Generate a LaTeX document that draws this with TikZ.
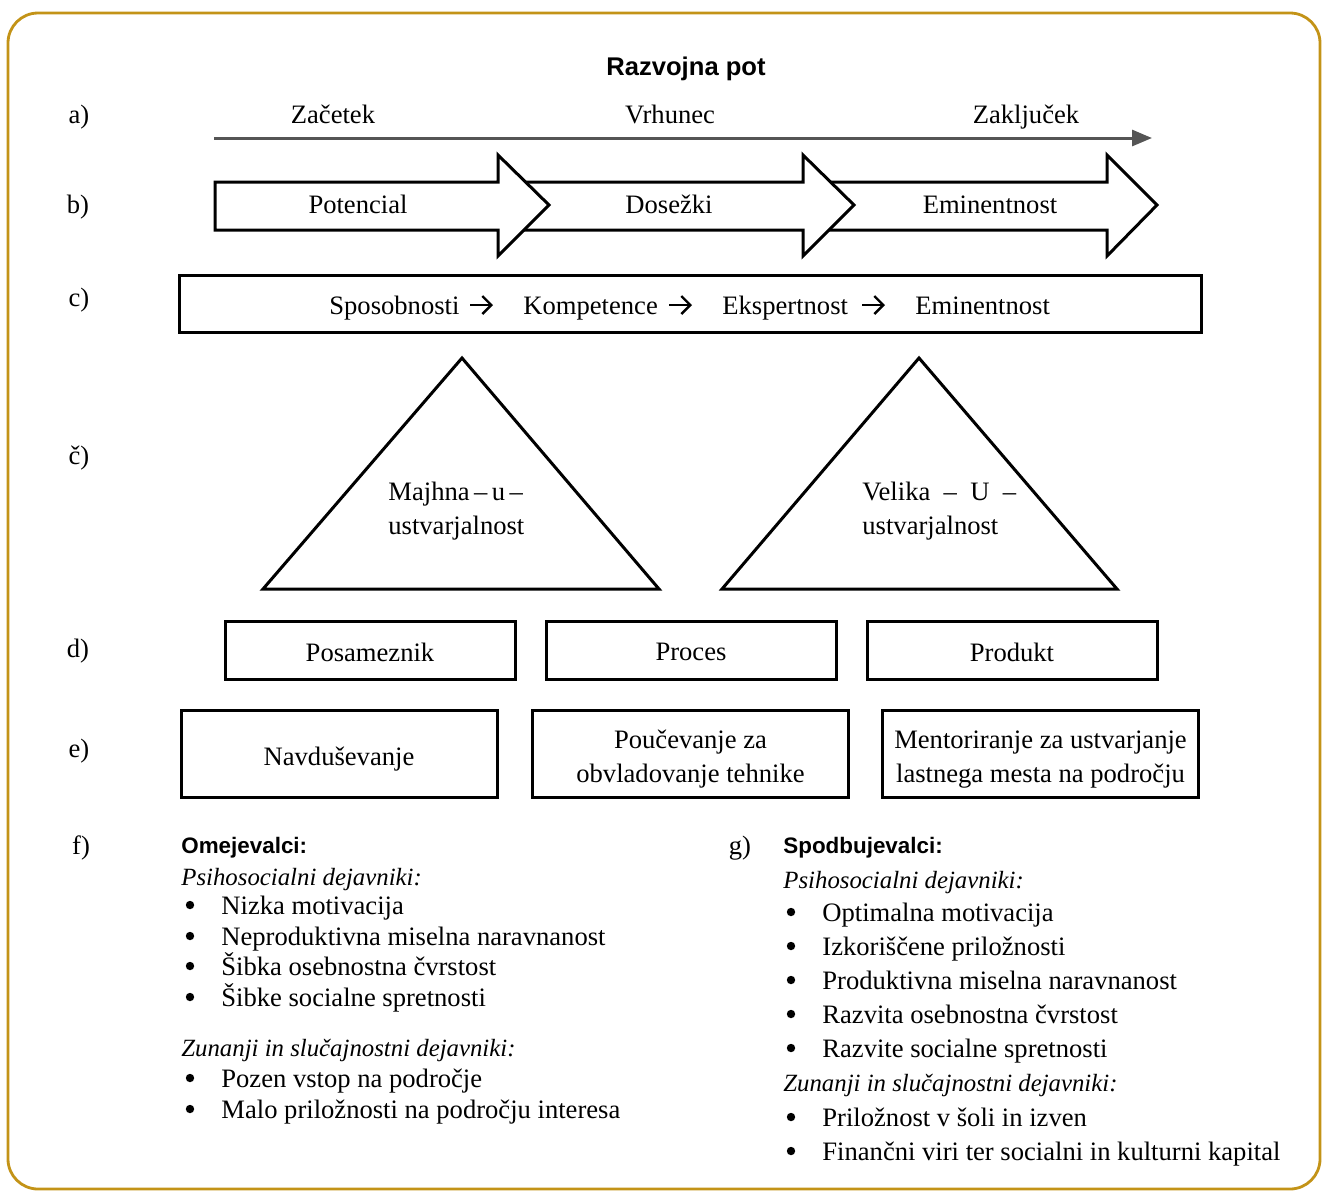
\documentclass[tikz,border=0pt]{standalone}
\usepackage{fontspec}
\setmainfont{Liberation Serif}
\newfontfamily\hsans{Liberation Sans}
\usetikzlibrary{arrows.meta}
\definecolor{frame}{HTML}{C39317}
\definecolor{axisgray}{HTML}{555555}
\begin{document}
\begin{tikzpicture}[x=0.5pt,y=-0.5pt,
  body/.style={font=\fontsize{13.3}{17}\selectfont, inner sep=0pt},
  ital/.style={font=\fontsize{12.4}{15}\selectfont\itshape, inner sep=0pt, anchor=base west},
  head/.style={font=\fontsize{11.2}{13}\selectfont\hsans\bfseries, inner sep=0pt, anchor=base west},
  rowlbl/.style={body, anchor=base},
  item/.style={body, anchor=base west},
  bul/.style={circle, fill=black, inner sep=0pt, minimum size=4.2pt},
  boxd/.style={draw, line width=1.5pt, minimum width=145pt, minimum height=29pt, inner sep=0pt, anchor=center},
  boxe/.style={draw, line width=1.5pt, minimum width=158pt, minimum height=43.5pt, inner sep=0pt, anchor=center},
  boxtext/.style={body, align=center, yshift=-3pt},
  carrow/.style={line width=1.2pt, -{Straight Barb[length=4.5pt,width=9pt,line width=1.2pt]}},
  blockarrow/.style={draw, fill=white, line width=1.5pt, line join=miter},
  tri/.style={draw, line width=1.5pt, line join=miter}]
\useasboundingbox (0,0) rectangle (1323,1191);
\draw[frame, line width=1.4pt, rounded corners=15pt] (8,13) rectangle (1320,1189);

% title
\node[font=\fontsize{12.8}{15}\selectfont\hsans\bfseries, inner sep=0pt, anchor=base] (title) at (686,75) {Razvojna pot};

% row labels
\node[rowlbl] (la) at (79,123) {a)};
\node[rowlbl] (lb) at (78,213) {b)};
\node[rowlbl] (lc) at (79,306) {c)};
\node[rowlbl] (lcc) at (79,464) {č)};
\node[rowlbl] (ld) at (78,657) {d)};
\node[rowlbl] (le) at (79,757) {e)};
\node[rowlbl] (lf) at (81,854) {f)};
\node[rowlbl] (lg) at (740,854) {g)};

% a) timeline
\node[body, anchor=base] (zac) at (333,123) {Začetek};
\node[body, anchor=base] (vrh) at (670,123) {Vrhunec};
\node[body, anchor=base] (zak) at (1026,123) {Zaključek};
\coordinate (ts) at (214,138);
\coordinate (te) at (1152,138);
\draw[axisgray, line width=1.5pt, -{Triangle[length=10pt,width=8pt]}] (ts) -- (te);

% b) block arrows
\draw[blockarrow] (815,182) -- (1107,182) -- (1107,155) -- (1157,205) -- (1107,256) -- (1107,230) -- (815,230) -- cycle;
\draw[blockarrow] (510,182) -- (803,182) -- (803,155) -- (854,205) -- (803,256) -- (803,230) -- (510,230) -- cycle;
\draw[blockarrow] (215,182) -- (498,182) -- (498,155) -- (549,205) -- (498,256) -- (498,230) -- (215,230) -- cycle;
\node[body, anchor=base] (pot) at (358,213) {Potencial};
\node[body, anchor=base] (dos) at (669,213) {Dosežki};
\node[body, anchor=base] (emi) at (990,213) {Eminentnost};

% c) box
\node[draw, line width=1.5pt, minimum width=511pt, minimum height=28.5pt, inner sep=0pt] (cbox) at (690,303.5) {};
\node[body, anchor=base west] (w1) at (329,314) {Sposobnosti};
\node[body, anchor=base west] (w2) at (523,314) {Kompetence};
\node[body, anchor=base west] (w3) at (722,314) {Ekspertnost};
\node[body, anchor=base west] (w4) at (915,314) {Eminentnost};
\coordinate (a1s) at (470,305); \coordinate (a1e) at (493,305);
\coordinate (a2s) at (669,305); \coordinate (a2e) at (692,305);
\coordinate (a3s) at (862,305); \coordinate (a3e) at (885,305);
\draw[carrow] (a1s) -- (a1e);
\draw[carrow] (a2s) -- (a2e);
\draw[carrow] (a3s) -- (a3e);

% triangles
\coordinate (t1a) at (462,358); \coordinate (t1l) at (263,589); \coordinate (t1r) at (659,589);
\coordinate (t2a) at (919,358); \coordinate (t2l) at (722,589); \coordinate (t2r) at (1117,589);
\draw[tri] (t1a) -- (t1r) -- (t1l) -- cycle;
\draw[tri] (t2a) -- (t2r) -- (t2l) -- cycle;
\node[body, anchor=base west] (m1) at (388,500) {Majhna\,–\,u\,–};
\node[body, anchor=base west] (m2) at (388,534) {ustvarjalnost};
\node[body, anchor=base west] (v1) at (862,500) {Velika\ \ –\ \ U\ \ –};
\node[body, anchor=base west] (v2) at (862,534) {ustvarjalnost};

% d) boxes
\node[boxd] (pos) at (370,650) {};
\node[boxd] (pro) at (691,650) {};
\node[boxd] (prd) at (1012,650) {};
\node[boxtext, yshift=2pt] (post) at (pos) {Posameznik};
\node[boxtext, yshift=2pt] (prot) at (pro) {Proces};
\node[boxtext, yshift=2pt] (prdt) at (prd) {Produkt};

% e) boxes
\node[boxe] (nav) at (339,753.5) {};
\node[boxe] (pou) at (690.5,753.5) {};
\node[boxe] (men) at (1040.5,753.5) {};
\node[boxtext] (navt) at (nav) {Navduševanje};
\node[boxtext] (pout) at (pou) {Poučevanje za\\obvladovanje tehnike};
\node[boxtext] (ment) at (men) {Mentoriranje za ustvarjanje\\lastnega mesta na področju};

% f) column
\node[head] (omej) at (181,853) {Omejevalci:};
\node[ital] (fps) at (181,885) {Psihosocialni dejavniki:};
\node[bul] (fb1) at (190,905) {}; \node[item] (fi1) at (221,914) {Nizka motivacija};
\node[bul] (fb2) at (190,936) {}; \node[item] (fi2) at (221,945) {Neproduktivna miselna naravnanost};
\node[bul] (fb3) at (190,966) {}; \node[item] (fi3) at (221,975) {Šibka osebnostna čvrstost};
\node[bul] (fb4) at (190,997) {}; \node[item] (fi4) at (221,1006) {Šibke socialne spretnosti};
\node[ital] (fzu) at (181,1056) {Zunanji in slučajnostni dejavniki:};
\node[bul] (fb5) at (190,1078) {}; \node[item] (fi5) at (221,1087) {Pozen vstop na področje};
\node[bul] (fb6) at (190,1109) {}; \node[item] (fi6) at (221,1118) {Malo priložnosti na področju interesa};

% g) column
\node[head] (spod) at (783,853) {Spodbujevalci:};
\node[ital] (gps) at (783,888) {Psihosocialni dejavniki:};
\node[bul] (gb1) at (791,912) {}; \node[item] (gi1) at (822,921) {Optimalna motivacija};
\node[bul] (gb2) at (791,946) {}; \node[item] (gi2) at (822,955) {Izkoriščene priložnosti};
\node[bul] (gb3) at (791,980) {}; \node[item] (gi3) at (822,989) {Produktivna miselna naravnanost};
\node[bul] (gb4) at (791,1014) {}; \node[item] (gi4) at (822,1023) {Razvita osebnostna čvrstost};
\node[bul] (gb5) at (791,1048) {}; \node[item] (gi5) at (822,1057) {Razvite socialne spretnosti};
\node[ital] (gzu) at (783,1091) {Zunanji in slučajnostni dejavniki:};
\node[bul] (gb6) at (791,1117) {}; \node[item] (gi6) at (822,1126) {Priložnost v šoli in izven};
\node[bul] (gb7) at (791,1151) {}; \node[item] (gi7) at (822,1160) {Finančni viri ter socialni in kulturni kapital};
\end{tikzpicture}
\end{document}
